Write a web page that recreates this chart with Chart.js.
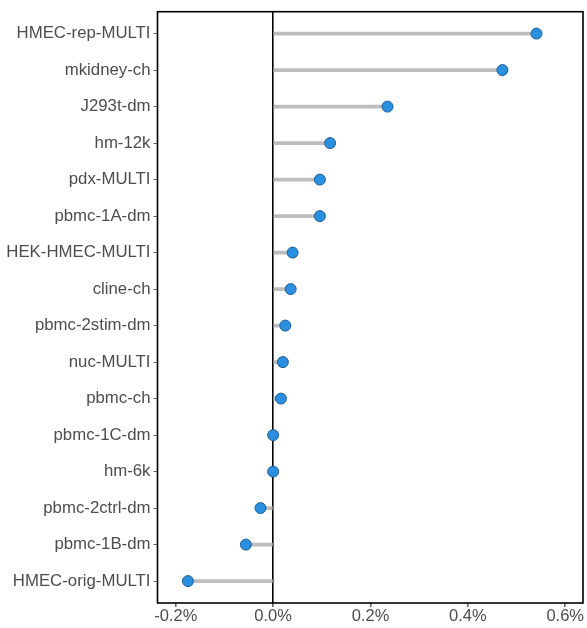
<!DOCTYPE html>
<html>
<head>
<meta charset="utf-8">
<script src="https://cdn.jsdelivr.net/npm/chart.js@4/dist/chart.umd.min.js"></script>
<style>
  html, body { margin: 0; padding: 0; background: #fff; }
  #wrap { width: 587px; height: 628px; }
</style>
</head>
<body>
<div id="wrap"><canvas id="chart"></canvas></div>
<script>
// samples, top to bottom
const samples = [
    'HMEC-rep-MULTI', 'mkidney-ch', 'J293t-dm', 'hm-12k', 'pdx-MULTI',
    'pbmc-1A-dm', 'HEK-HMEC-MULTI', 'cline-ch', 'pbmc-2stim-dm', 'nuc-MULTI',
    'pbmc-ch', 'pbmc-1C-dm', 'hm-6k', 'pbmc-2ctrl-dm', 'pbmc-1B-dm', 'HMEC-orig-MULTI'
];
// values in percent
const values = [
    0.541, 0.471, 0.235, 0.117, 0.096,
    0.096, 0.040, 0.036, 0.025, 0.020,
    0.016, 0.000, 0.000, -0.026, -0.056, -0.175
];
const xTicks = [-0.2, 0.0, 0.2, 0.4, 0.6];
const xMin = -0.2376;
const xMax = 0.6366;

const labelFont = { family: "'Liberation Sans', Arial, sans-serif", size: 16.8 };
const tickFont = { family: "'Liberation Sans', Arial, sans-serif", size: 16.5 };

// box around the plot area
const frame = {
    id: 'frame',
    afterDraw(chart) {
        const { ctx, chartArea: a } = chart;
        ctx.save();
        ctx.strokeStyle = '#000';
        ctx.lineWidth = 1.6;
        ctx.strokeRect(a.left, a.top, a.right - a.left, a.bottom - a.top);
        ctx.restore();
    }
};

new Chart(document.getElementById('chart'), {
    type: 'bar',
    data: {
        datasets: [
            {
                type: 'line',
                data: values.map((v, i) => ({ x: v, y: i })),
                showLine: false,
                pointRadius: 5.5,
                pointBackgroundColor: '#2b8fe0',
                pointBorderColor: '#1f5f94',
                pointBorderWidth: 1,
                order: 0
            },
            {
                indexAxis: 'y',
                data: values.map((v, i) => ({ x: [0, v], y: i })),
                backgroundColor: '#bdbdbd',
                barThickness: 3,
                order: 1
            }
        ]
    },
    options: {
        indexAxis: 'y',
        responsive: true,
        maintainAspectRatio: false,
        animation: false,
        layout: {
            autoPadding: false,
            padding: { top: 11.7, right: 4, left: 0, bottom: 0 }
        },
        plugins: {
            legend: { display: false },
            tooltip: { enabled: false }
        },
        scales: {
            x: {
                type: 'linear',
                offset: false,
                min: xMin,
                max: xMax,
                afterBuildTicks(scale) {
                    scale.ticks = xTicks.map(v => ({ value: v }));
                },
                afterFit(scale) {
                    scale.height = 25;
                    scale.paddingRight = 0;
                    scale.paddingLeft = 0;
                },
                border: { display: false },
                grid: {
                    offset: false,
                    color: c => (c.tick && c.tick.value === 0 ? '#000' : 'rgba(0,0,0,0)'),
                    lineWidth: 1.6,
                    tickColor: '#666',
                    tickLength: 4
                },
                ticks: {
                    font: tickFont,
                    color: '#4d4d4d',
                    padding: 0,
                    maxRotation: 0,
                    callback: v => v.toFixed(1) + '%'
                }
            },
            y: {
                type: 'linear',
                offset: false,
                reverse: true,
                min: -0.6,
                max: samples.length - 0.4,
                afterBuildTicks(scale) {
                    scale.ticks = samples.map((s, i) => ({ value: i }));
                },
                afterFit(scale) {
                    scale.width = 157.5;
                    scale.paddingTop = 0;
                    scale.paddingBottom = 0;
                },
                border: { display: false },
                grid: {
                    offset: false,
                    drawOnChartArea: false,
                    color: 'rgba(0,0,0,0)',
                    tickColor: '#666',
                    tickLength: 4
                },
                ticks: {
                    font: labelFont,
                    color: '#4d4d4d',
                    padding: 3,
                    callback: v => samples[v]
                }
            }
        }
    },
    plugins: [frame]
});
</script>
</body>
</html>
